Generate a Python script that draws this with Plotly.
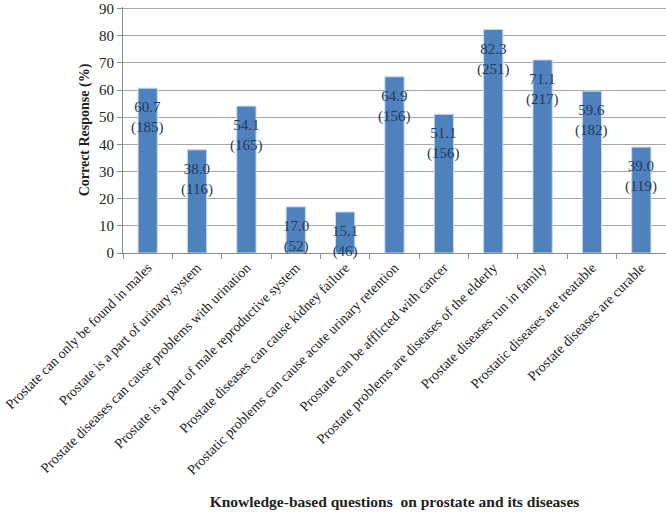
import plotly.graph_objects as go

questions = [
    "Prostate can only be found in males",
    "Prostate is a part of urinary system",
    "Prostate diseases can cause problems with urination",
    "Prostate is a part of male reproductive system",
    "Prostate diseases can cause kidney failure",
    "Prostatic problems can cause acute urinary retention",
    "Prostate can be afflicted with cancer",
    "Prostate problems are diseases of the elderly",
    "Prostate diseases run in family",
    "Prostatic diseases are treatable",
    "Prostate diseases are curable",
]
percent = [60.7, 38.0, 54.1, 17.0, 15.1, 64.9, 51.1, 82.3, 71.1, 59.6, 39.0]
counts = [185, 116, 165, 52, 46, 156, 156, 251, 217, 182, 119]

serif = "Liberation Serif"

fig = go.Figure()
fig.add_trace(go.Bar(
    x=questions,
    y=percent,
    width=0.39,
    marker=dict(color="#4F81BD", line=dict(color="#C6D9F1", width=1)),
    hoverinfo="x+y",
))

# value labels just under the top of each bar
for q, p, n in zip(questions, percent, counts):
    fig.add_annotation(
        x=q, y=p, text="%.1f<br>(%d)" % (p, n),
        showarrow=False, yanchor="top", yshift=-9,
        font=dict(family=serif, size=15, color="#1F3A60"),
    )

fig.update_layout(
    width=666, height=516,
    margin=dict(l=123, r=0, t=7, b=263),
    plot_bgcolor="white", paper_bgcolor="white",
    showlegend=False,
    font=dict(family=serif, size=13, color="#222222"),
)
fig.update_xaxes(
    automargin=False,
    tickangle=-45,
    tickson="boundaries",
    ticks="outside", ticklen=5, tickcolor="#8C8C8C",
    showline=True, linecolor="#8C8C8C",
    showgrid=False,
    tickfont=dict(family=serif, size=14, color="#222222"),
    title=dict(text="<b>Knowledge-based questions  on prostate and its diseases</b>",
               font=dict(family=serif, size=15.5, color="#222222"), standoff=19),
)
fig.update_yaxes(
    automargin=False,
    range=[0, 90.6], tickvals=list(range(0, 100, 10)),
    ticklabeloverflow="allow",
    ticks="outside", ticklen=5, tickcolor="#8C8C8C",
    showline=True, linecolor="#8C8C8C",
    showgrid=True, gridcolor="#A6A6A6", gridwidth=1,
    zeroline=False,
    tickfont=dict(family=serif, size=15, color="#222222"),
    title=dict(text="<b>Correct Response (%)</b>",
               font=dict(family=serif, size=14, color="#222222"), standoff=6),
)

# drop the page's default body margin so the figure sits at the window corner
fig.write_html("out.html", config={"displayModeBar": False},
               post_script="document.body.style.margin='0';")
